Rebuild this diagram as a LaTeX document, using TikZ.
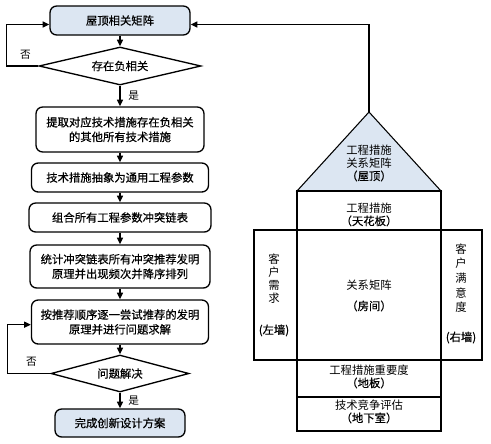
\documentclass[tikz,border=0pt]{standalone}
\usepackage{fontspec}
\setmainfont{Noto Sans CJK SC}
\newfontfamily\heavycjk{Noto Sans CJK SC}[FakeBold=0.5]
\usepackage{tikz}
\usetikzlibrary{arrows.meta}
\usetikzlibrary{shapes.geometric}
\definecolor{roofblue}{RGB}{220,230,242}
\tikzset{
  flowbox/.style={draw, line width=1pt, rounded corners=5pt, align=center, inner sep=0.75pt, font=\heavycjk\fontsize{8.5}{11}\selectfont},
  flowtest/.style={draw, line width=1pt, diamond, aspect=4, inner sep=0pt, font=\heavycjk\fontsize{8.5}{11}\selectfont},
  flowarr/.style={-{Triangle[length=5pt,width=4.5pt]}, line width=1pt},
  flowlabel/.style={inner sep=0.75pt, font=\fontsize{8}{10}\selectfont},
  houseline/.style={line width=0.8pt},
  housetext/.style={align=center, inner sep=0.75pt, font=\fontsize{8.5}{9.75}\selectfont}
}

\begin{document}
\begin{tikzpicture}[x=0.75pt,y=0.75pt,yscale=-1,xscale=1]
\path [use as bounding box] (0,0) rectangle (491,443);

%Shape: Rounded Rect [flow boxes]
\draw (120,20.5) node (roofmat) [flowbox, fill=roofblue, minimum width=105pt, minimum height=21.75pt] {屋顶相关矩阵};
\draw (120,66) node (negtest) [flowtest, minimum width=121.5pt, minimum height=28.5pt] {存在负相关};
\draw (120,129.5) node (extract) [flowbox, minimum width=126pt, minimum height=33.75pt] {提取对应技术措施存在负相关\\的其他所有技术措施};
\draw (120,177.5) node (abstract) [flowbox, minimum width=132.75pt, minimum height=21.75pt] {技术措施抽象为通用工程参数};
\draw (120,217.5) node (chain) [flowbox, minimum width=136.5pt, minimum height=21.75pt] {组合所有工程参数冲突链表};
\draw (120,266.5) node (count) [flowbox, minimum width=135pt, minimum height=32.25pt] {统计冲突链表所有冲突推荐发明\\原理并出现频次并降序排列};
\draw (120,322) node (trial) [flowbox, minimum width=132.75pt, minimum height=33pt] {按推荐顺序逐一尝试推荐的发明\\原理并进行问题求解};
\draw (120,373.5) node (solved) [flowtest, minimum width=103.5pt, minimum height=27.75pt] {问题解决};
\draw (120,423) node (done) [flowbox, fill=roofblue, minimum width=97.5pt, minimum height=21pt] {完成创新设计方案};

%Straight Lines [flow arrows]
\draw [flowarr] (roofmat.south) -- (negtest.north);
\draw [flowarr] (negtest.south) -- (extract.north) node (yes1) [flowlabel, midway, right=5pt] {是};
\draw [flowarr] (negtest.west) -- ++(-32,0) node (no1) [flowlabel, pos=0.4, above=4pt] {否} |- ([yshift=3pt]roofmat.west);
\draw [flowarr] (extract.south) -- (abstract.north);
\draw [flowarr] (abstract.south) -- (chain.north);
\draw [flowarr] (chain.south) -- (count.north);
\draw [flowarr] (count.south) -- (trial.north);
\draw [flowarr] (trial.south) -- (solved.north);
\draw [flowarr] (solved.south) -- (done.north) node (yes2) [flowlabel, midway, right=5pt] {是};
\draw [flowarr] (solved.west) -- ++(-43,0) node (no2) [flowlabel, pos=0.44, above=4pt] {否} |- ([yshift=2pt]trial.west);

%Shape: Triangle [roof]
\coordinate (apex) at (369,112);
\draw [houseline, fill=roofblue] (297,191) -- (apex) -- (441,191) -- cycle;
%Straight Lines [roof to matrix]
\draw [flowarr] (apex) |- ([yshift=3pt]roofmat.east);

%Shape: Rectangle [house]
\draw [houseline] (297,191) rectangle (441,230);
\draw [houseline] (254,230) rectangle (297,360);
\draw [houseline] (297,230) rectangle (441,360);
\draw [houseline] (441,230) rectangle (482,360);
\draw [houseline] (297,360) rectangle (441,397);
\draw [houseline] (297,397) rectangle (441,431);
\draw [line width=1.6pt] (297,397) -- (441,397);

% Text Node
\draw (369,163) node (rooftext) [housetext] {工程措施\\关系矩阵\\{\heavycjk （屋顶）}};
% Text Node
\draw (369,214.5) node (ceiltext) [housetext] {工程措施\\{\heavycjk （天花板）}};
% Text Node
\draw (274,295) node (lefttext) [housetext] {客\\户\\需\\求\\[14pt]{\heavycjk (左墙)}};
% Text Node
\draw (369,295.5) node (roomtext) [housetext] {关系矩阵\\[6pt]{\heavycjk （房间）}};
% Text Node
\draw (461,293.5) node (righttext) [housetext, font=\fontsize{8.5}{11}\selectfont] {客\\户\\满\\意\\度\\[11pt]{\heavycjk (右墙)}};
% Text Node
\draw (369,376.5) node (floortext) [housetext] {工程措施重要度\\{\heavycjk （地板）}};
% Text Node
\draw (369,411.5) node (basetext) [housetext] {技术竞争评估\\{\heavycjk （地下室）}};

\end{tikzpicture}
\end{document}
